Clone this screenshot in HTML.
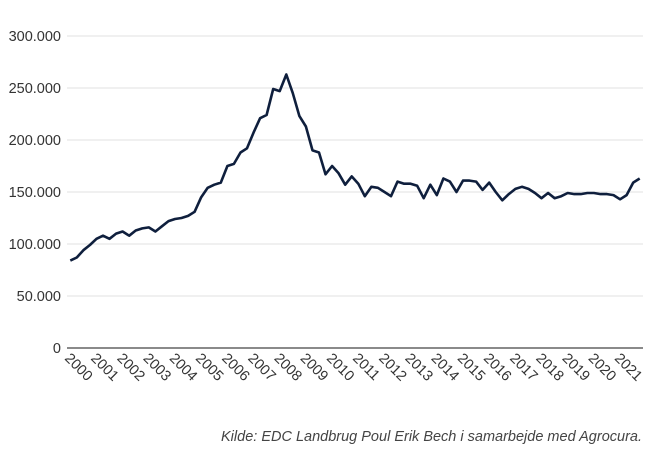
<!DOCTYPE html>
<html><head><meta charset="utf-8"><style>
body{margin:0;background:#fff;width:650px;height:450px;overflow:hidden;font-family:"Liberation Sans",sans-serif}
</style></head><body>
<svg id="chart" width="650" height="450" xmlns="http://www.w3.org/2000/svg">
<g id="grid"></g>
<g id="yaxis"></g>
<g id="xaxis"></g>
<path id="line" fill="none" stroke="#0f1f3d" stroke-width="2.6" stroke-linejoin="round"/>
<text x="642" y="441" text-anchor="end" font-size="14.5" font-style="italic" fill="#444">Kilde: EDC Landbrug Poul Erik Bech i samarbejde med Agrocura.</text>
</svg>
<script>
const years=["2000","2001","2002","2003","2004","2005","2006","2007","2008","2009","2010","2011","2012","2013","2014","2015","2016","2017","2018","2019","2020","2021"];
const yTicks=[0,50000,100000,150000,200000,250000,300000];
const yTickLabels=["0","50.000","100.000","150.000","200.000","250.000","300.000"];
const values=[84,87,94,99,105,108,105,110,112,108,113,115,116,112,117,122,124,125,127,131,145,154,157,159,175,177,188,192,207,221,224,249,247,263,245,223,213,190,188,167,175,168,157,165,158,146,155,154,150,146,160,158,158,156,144,157,147,163,160,150,161,161,160,152,159,150,142,148,153,155,153,149,144,149,144,146,149,148,148,149,149,148,148,147,143,147,159,163].map(v=>v*1000);
const X0=67,X1=643,Y0=348,Y1=36,YMAX=300000;
const nQ=years.length*4;
const xs=i=>X0+(i+0.5)*(X1-X0)/nQ;
const ys=v=>Y0-(v/YMAX)*(Y0-Y1);
const NS="http://www.w3.org/2000/svg";
const grid=document.getElementById('grid'),ya=document.getElementById('yaxis'),xa=document.getElementById('xaxis');
yTicks.forEach((t,k)=>{
  if(t>0){const l=document.createElementNS(NS,'line');
  
  
  l.setAttribute('x1',X0);l.setAttribute('x2',X1);l.setAttribute('y1',ys(t));l.setAttribute('y2',ys(t));
  l.setAttribute('stroke','#e2e2e2');l.setAttribute('stroke-width','1');grid.appendChild(l);}
  const tx=document.createElementNS(NS,'text');
  
  
  tx.setAttribute('x',61);tx.setAttribute('y',ys(t)+5);tx.setAttribute('text-anchor','end');
  tx.setAttribute('font-size','14.5');tx.setAttribute('fill','#333');tx.textContent=yTickLabels[k];ya.appendChild(tx);
});
const ax=document.createElementNS(NS,'line');


ax.setAttribute('x1',X0);ax.setAttribute('x2',X1);ax.setAttribute('y1',Y0);ax.setAttribute('y2',Y0);
ax.setAttribute('stroke','#444');ax.setAttribute('stroke-width','1.3');xa.appendChild(ax);
years.forEach((y,k)=>{
  const x=X0+k*(X1-X0)/years.length-3;
  const tx=document.createElementNS(NS,'text');
  
  
  tx.setAttribute('transform',`translate(${x},${Y0+11}) rotate(45)`);
  tx.setAttribute('font-size','14.5');tx.setAttribute('fill','#333');tx.textContent=y;xa.appendChild(tx);
});
document.getElementById('line').setAttribute('d',values.map((v,i)=>(i?'L':'M')+xs(i).toFixed(1)+','+ys(v).toFixed(1)).join(''));
</script>
</body></html>
